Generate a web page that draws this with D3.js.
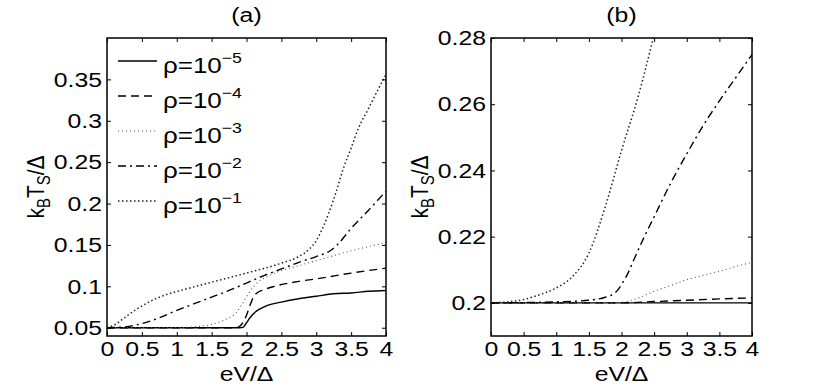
<!DOCTYPE html>
<html>
<head>
<meta charset="utf-8">
<script src="https://cdn.jsdelivr.net/npm/d3@7"></script>
<style>
  body { margin: 0; background: #fff; }
  text { font-family: "Liberation Sans", Arial, sans-serif; fill: #000; }
</style>
</head>
<body>
<svg id="chart" width="830" height="390"></svg>
<script>
// values
var xTicks = [0, 0.5, 1, 1.5, 2, 2.5, 3, 3.5, 4];
var xTickLabels = ["0", "0.5", "1", "1.5", "2", "2.5", "3", "3.5", "4"];
var yTicksA = [0.05, 0.1, 0.15, 0.2, 0.25, 0.3, 0.35];
var yTickLabelsA = ["0.05", "0.1", "0.15", "0.2", "0.25", "0.3", "0.35"];
var yTicksB = [0.2, 0.22, 0.24, 0.26, 0.28];
var yTickLabelsB = ["0.2", "0.22", "0.24", "0.26", "0.28"];
var seriesNames = ["-5", "-4", "-3", "-2", "-1"];

// panel (a)
var a_rho5 = [[0,0.05],[1.9,0.05],[1.95,0.0505],[2.0,0.056],[2.05,0.062],[2.1,0.067],[2.2,0.073],[2.3,0.077],[2.5,0.081],[2.75,0.085],[3,0.088],[3.25,0.091],[3.5,0.092],[3.75,0.094],[4,0.095]];
var a_rho4 = [[0,0.05],[1.85,0.05],[1.92,0.053],[2.0,0.065],[2.05,0.077],[2.1,0.087],[2.15,0.092],[2.25,0.096],[2.4,0.1],[2.75,0.106],[3,0.109],[3.5,0.116],[4,0.122]];
var a_rho3 = [[0,0.05],[1,0.05],[1.25,0.051],[1.5,0.054],[1.7,0.06],[1.85,0.068],[1.95,0.08],[2.05,0.094],[2.15,0.104],[2.3,0.112],[2.5,0.119],[2.75,0.125],[3,0.131],[3.25,0.137],[3.5,0.143],[3.75,0.148],[4,0.153]];
var a_rho2 = [[0,0.05],[0.25,0.051],[0.5,0.055],[0.75,0.062],[1,0.071],[1.25,0.079],[1.5,0.087],[1.75,0.095],[2,0.104],[2.25,0.113],[2.5,0.121],[2.75,0.129],[3,0.136],[3.2,0.143],[3.3,0.15],[3.5,0.17],[3.75,0.192],[4,0.215]];
var a_rho1 = [[0,0.05],[0.1,0.053],[0.25,0.062],[0.4,0.071],[0.6,0.081],[0.85,0.09],[1.1,0.096],[1.5,0.105],[2,0.116],[2.5,0.128],[2.75,0.136],[2.9,0.145],[3.0,0.155],[3.1,0.172],[3.25,0.205],[3.4,0.245],[3.5,0.267],[3.6,0.29],[3.75,0.315],[3.9,0.34],[4,0.356]];

// panel (b)
var b_rho5 = [[0,0.2],[4,0.2]];
var b_rho4 = [[0,0.2],[2,0.2],[2.5,0.2004],[3,0.2008],[3.5,0.2012],[4,0.2015]];
var b_rho3 = [[0,0.2],[1.9,0.2],[2.1,0.2005],[2.3,0.2018],[2.5,0.2035],[2.75,0.2052],[3,0.207],[3.25,0.2083],[3.5,0.2095],[3.75,0.211],[4,0.2122]];
var b_rho2 = [[0,0.2],[1,0.2003],[1.5,0.2008],[1.75,0.2017],[1.9,0.203],[2,0.2055],[2.1,0.209],[2.2,0.2135],[2.35,0.22],[2.5,0.226],[2.75,0.236],[3,0.245],[3.25,0.2535],[3.5,0.261],[3.75,0.268],[4,0.275]];
var b_rho1 = [[0,0.2],[0.25,0.2003],[0.5,0.201],[0.75,0.2025],[1,0.2045],[1.25,0.208],[1.5,0.215],[1.75,0.229],[2,0.246],[2.25,0.262],[2.5,0.281]];

var styles = [
  {stroke: "#000", width: 1.4, dash: null},
  {stroke: "#000", width: 1.4, dash: "8,5"},
  {stroke: "#555", width: 1.1, dash: "1,3"},
  {stroke: "#000", width: 1.4, dash: "8,4,2,4"},
  {stroke: "#222", width: 1.5, dash: "1.5,2.5"}
];

var SX = 1.18; // glyphs in the picture are stretched sideways
var svg = d3.select("#chart");

function drawPanel(opt) {
  var x = d3.scaleLinear().domain([0, 4]).range([opt.left, opt.right]);
  var y = d3.scaleLinear().domain(opt.yDomain).range([336, 38]);
  var g = svg.append("g");

  var clipId = "clip_" + opt.name;
  svg.append("clipPath").attr("id", clipId).append("rect")
    .attr("x", opt.left).attr("y", 38).attr("width", opt.right - opt.left).attr("height", 298);

  var line = d3.line().x(d => x(d[0])).y(d => y(d[1])).curve(d3.curveMonotoneX);
  g.append("g").attr("clip-path", `url(#${clipId})`)
    .selectAll("path")
    .data(opt.series)
    .join("path")
    .attr("d", d => line(d))
    .attr("fill", "none")
    .attr("stroke", (d, i) => styles[i].stroke)
    .attr("stroke-width", (d, i) => styles[i].width)
    .attr("stroke-dasharray", (d, i) => styles[i].dash);

  // ticks inside, all four sides
  var xb = g.append("g").attr("transform", "translate(0,336)")
    .call(d3.axisBottom(x).tickValues(xTicks).tickSizeInner(-4).tickSizeOuter(0).tickPadding(5)
      .tickFormat((d, i) => xTickLabels[i]));
  g.append("g").attr("transform", "translate(0,38)")
    .call(d3.axisTop(x).tickValues(xTicks).tickSizeInner(-4).tickSizeOuter(0).tickFormat(""));
  var yl = g.append("g").attr("transform", `translate(${opt.left},0)`)
    .call(d3.axisLeft(y).tickValues(opt.yTicks).tickSizeInner(-4).tickSizeOuter(0).tickPadding(5)
      .tickFormat((d, i) => opt.yLabels[i]));
  g.append("g").attr("transform", `translate(${opt.right},0)`)
    .call(d3.axisRight(y).tickValues(opt.yTicks).tickSizeInner(-4).tickSizeOuter(0).tickFormat(""));

  g.selectAll(".domain").remove();
  g.selectAll(".tick line").attr("stroke", "#000").attr("stroke-width", 1);

  xb.selectAll("text").attr("font-size", 21).attr("dy", "0.71em")
    .attr("transform", `scale(${SX},1)`);
  yl.selectAll("text").attr("font-size", 21)
    .attr("x", -5 / SX).attr("transform", `scale(${SX},1)`);

  g.append("rect")
    .attr("x", opt.left).attr("y", 38).attr("width", opt.right - opt.left).attr("height", 298)
    .attr("fill", "none").attr("stroke", "#000").attr("stroke-width", 1.5);

  var cx = (opt.left + opt.right) / 2;
  g.append("text").attr("transform", `translate(${cx},22) scale(${SX},1)`)
    .attr("text-anchor", "middle").attr("font-size", 21).text(opt.title);

  g.append("text").attr("transform", `translate(${cx},381) scale(${SX},1)`)
    .attr("text-anchor", "middle").attr("font-size", 21).text("eV/Δ");

  var yt = g.append("text")
    .attr("transform", `translate(${opt.left - 63},187) scale(${SX},1) rotate(-90)`)
    .attr("text-anchor", "middle").attr("font-size", 21);
  yt.append("tspan").text("k");
  yt.append("tspan").attr("font-size", 15).attr("dy", 5).text("B");
  yt.append("tspan").attr("dy", -5).text("T");
  yt.append("tspan").attr("font-size", 15).attr("dy", 5).text("S");
  yt.append("tspan").attr("dy", -5).text("/Δ");
  return {x: x, y: y, g: g};
}

var pa = drawPanel({name: "a", left: 107, right: 386, yDomain: [0.04, 0.4],
  yTicks: yTicksA, yLabels: yTickLabelsA, title: "(a)",
  series: [a_rho5, a_rho4, a_rho3, a_rho2, a_rho1]});
drawPanel({name: "b", left: 491, right: 752, yDomain: [0.19, 0.28],
  yTicks: yTicksB, yLabels: yTickLabelsB, title: "(b)",
  series: [b_rho5, b_rho4, b_rho3, b_rho2, b_rho1]});

// legend in panel (a)
var leg = pa.g.append("g").selectAll("g")
  .data(seriesNames)
  .join("g")
  .attr("transform", (d, i) => `translate(118,${61 + i * 35})`);
leg.append("line")
  .attr("x1", 0).attr("x2", 39).attr("y1", 0).attr("y2", 0)
  .attr("stroke", (d, i) => styles[i].stroke)
  .attr("stroke-width", (d, i) => styles[i].width)
  .attr("stroke-dasharray", (d, i) => styles[i].dash);
var lt = leg.append("text")
  .attr("transform", `translate(45,12) scale(${SX},1)`)
  .attr("font-size", 22);
lt.append("tspan").text("ρ=10");
lt.append("tspan").attr("font-size", 15).attr("dy", -10).text(d => d.replace("-", "−"));
</script>
</body>
</html>
